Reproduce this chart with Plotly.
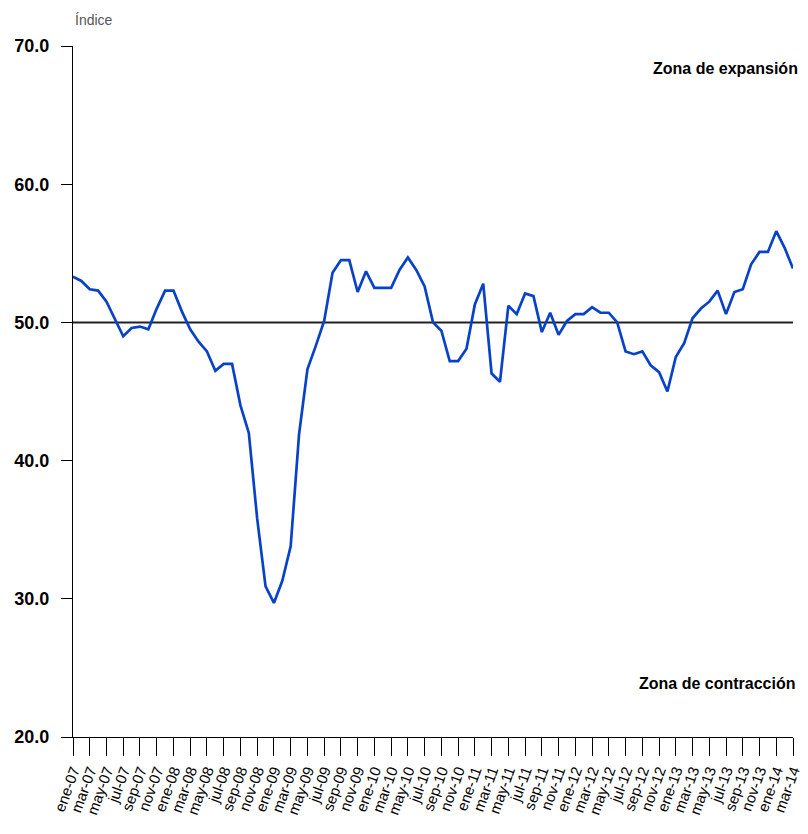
import plotly.graph_objects as go

month_names = ["ene", "feb", "mar", "abr", "may", "jun", "jul", "ago", "sep", "oct", "nov", "dic"]
years = ["07", "08", "09", "10", "11", "12", "13", "14"]
categories = [f"{m}-{y}" for y in years for m in month_names][:87]

values = [
    53.3, 53.0, 52.4, 52.3, 51.5, 50.3, 49.0, 49.6, 49.7, 49.5, 51.0, 52.3,
    52.3, 50.8, 49.5, 48.6, 47.9, 46.5, 47.0, 47.0, 44.0, 42.0, 35.8, 30.9,
    29.7, 31.3, 33.8, 41.9, 46.6, 48.3, 50.1, 53.6, 54.5, 54.5, 52.2, 53.7,
    52.5, 52.5, 52.5, 53.8, 54.7, 53.8, 52.6, 50.0, 49.4, 47.2, 47.2, 48.1,
    51.3, 52.8, 46.3, 45.7, 51.2, 50.6, 52.1, 51.9, 49.3, 50.7, 49.1, 50.1,
    50.6, 50.6, 51.1, 50.7, 50.7, 50.0, 47.9, 47.7, 47.9, 46.9, 46.4, 45.0,
    47.5, 48.5, 50.3, 51.0, 51.5, 52.3, 50.6, 52.2, 52.4, 54.2, 55.1, 55.1,
    56.6, 55.4, 53.9,
]

tick_labels = categories[::2]
y_ticks = [20, 30, 40, 50, 60, 70]
threshold = 50

sans = "Liberation Sans, Arial, sans-serif"

fig = go.Figure()
fig.add_trace(go.Scatter(
    x=categories, y=values, mode="lines",
    line=dict(color="#0842c8", width=2.7),
    showlegend=False, hoverinfo="x+y",
))

fig.add_shape(type="line", xref="paper", yref="y", x0=0, x1=1, y0=threshold, y1=threshold,
              line=dict(color="#222222", width=2), layer="below")

# page body has an 8px margin, so the figure is sized/offset to compensate
fig.update_layout(
    width=800, height=826,
    margin=dict(l=65, r=15, t=38, b=97),
    paper_bgcolor="white", plot_bgcolor="white",
    xaxis=dict(
        type="category", categoryorder="array", categoryarray=categories,
        range=[0, len(categories) - 1], automargin=False,
        tickmode="array", tickvals=tick_labels, ticktext=tick_labels,
        tickangle=-70, ticks="outside", ticklen=18, tickcolor="black", tickwidth=1,
        showline=True, linecolor="black", linewidth=1,
        showgrid=False, zeroline=False,
        tickfont=dict(family=sans, size=15, color="black"),
    ),
    yaxis=dict(
        range=[20, 70], tickmode="array", tickvals=y_ticks, automargin=False,
        ticktext=[f"{v:.1f}" for v in y_ticks],
        ticks="outside", ticklen=11, tickcolor="black", tickwidth=1,
        ticklabelstandoff=8,
        showline=True, linecolor="black", linewidth=1,
        showgrid=False, zeroline=False,
        tickfont=dict(family=sans, size=18, color="black", weight="bold"),
    ),
    annotations=[
        dict(text="Índice", xref="paper", yref="paper", x=0, y=1.0, yshift=26,
             xanchor="left", yanchor="middle", showarrow=False,
             font=dict(family=sans, size=14, color="#555555")),
        dict(text="<b>Zona de expansión</b>", xref="paper", yref="paper", x=1.0, xshift=7,
             y=0.968, xanchor="right", yanchor="middle", showarrow=False,
             font=dict(family=sans, size=16, color="black")),
        dict(text="<b>Zona de contracción</b>", xref="paper", yref="paper", x=1.0, xshift=4,
             y=0.077, xanchor="right", yanchor="middle", showarrow=False,
             font=dict(family=sans, size=16, color="black")),
    ],
)

fig.write_html("out.html")
